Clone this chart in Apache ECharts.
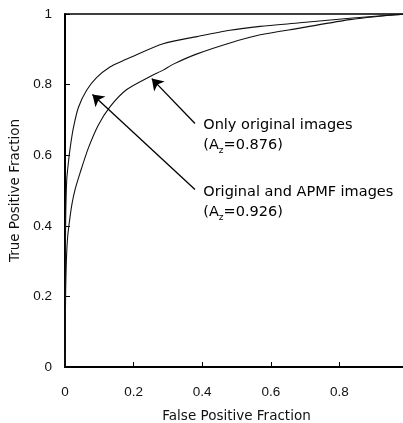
<!DOCTYPE html>
<html>
<head>
<meta charset="utf-8">
<script src="https://cdn.jsdelivr.net/npm/echarts@6/dist/echarts.min.js"></script>
<style>
html,body{margin:0;padding:0;background:#fff;overflow:hidden;width:403px;height:423px;}
#chart{width:410px;height:423px;}
</style>
</head>
<body>
<div id="chart"></div>
<script>
// ROC curve: Original and APMF images (A_z = 0.926)
const fprApmf = [0, 0.0005, 0.002, 0.005, 0.01, 0.015, 0.024, 0.039, 0.063, 0.092, 0.131, 0.17, 0.19, 0.286, 0.385, 0.481, 0.569, 0.685, 0.831, 0.977, 1];
const tprApmf = [0, 0.25, 0.42, 0.53, 0.58, 0.62, 0.675, 0.735, 0.784, 0.82, 0.85, 0.868, 0.877, 0.916, 0.936, 0.954, 0.965, 0.975, 0.988, 0.999, 1];
// ROC curve: Only original images (A_z = 0.876)
const fprOrig = [0, 0.001, 0.002, 0.004, 0.007, 0.012, 0.02, 0.03, 0.044, 0.068, 0.097, 0.131, 0.18, 0.248, 0.286, 0.316, 0.385, 0.481, 0.569, 0.685, 0.831, 0.977, 1];
const tprOrig = [0, 0.12, 0.22, 0.3, 0.36, 0.405, 0.46, 0.505, 0.55, 0.62, 0.685, 0.737, 0.786, 0.823, 0.841, 0.858, 0.887, 0.918, 0.941, 0.96, 0.984, 0.999, 1];

const xTickLabels = ['0', '0.2', '0.4', '0.6', '0.8', '1'];
const yTickLabels = ['0', '0.2', '0.4', '0.6', '0.8', '1'];

// annotation arrows: [tail, tip] in data units
const arrowOrig = [[0.379, 0.69], [0.253, 0.817]];
const arrowApmf = [[0.379, 0.503], [0.080, 0.772]];
// annotation text anchors (left edge, vertical centre) in data units
const labelOrigPos = [0.403, 0.656];
const labelApmfPos = [0.403, 0.468];
const labelOrig = ['Only original images', '(A{sub|z}=0.876)'];
const labelApmf = ['Original and APMF images', '(A{sub|z}=0.926)'];

const zip = (xs, ys) => xs.map((x, i) => [x, ys[i]]);
const tickFmt = (labels) => (v) => labels[Math.round(v / 0.2)] ?? '';

const chart = echarts.init(document.getElementById('chart'), null, {renderer: 'canvas'});
const txt = '#000';
chart.setOption({
  animation: false,
  backgroundColor: '#fff',
  grid: {left: 65, right: 2, top: 14, bottom: 56, containLabel: false, outerBoundsMode: 'none',
    show: true, borderColor: '#000', borderWidth: 1.5, backgroundColor: 'transparent'},
  xAxis: {
    type: 'value', min: 0, max: 1, interval: 0.2,
    name: 'False Positive Fraction', nameLocation: 'middle', nameGap: 42,
    nameTextStyle: {fontFamily: 'DejaVu Sans', fontSize: 13.5, color: '#111'},
    axisLine: {show: true, lineStyle: {color: '#000', width: 2}},
    axisTick: {show: true, inside: true, length: 5, lineStyle: {color: '#000', width: 1}},
    axisLabel: {formatter: tickFmt(xTickLabels), showMaxLabel: false, margin: 18, fontFamily: 'Liberation Sans', fontSize: 13.5, color: '#111'},
    splitLine: {show: false}
  },
  yAxis: {
    type: 'value', min: 0, max: 1, interval: 0.2,
    name: 'True Positive Fraction', nameLocation: 'middle', nameGap: 40,
    nameTextStyle: {fontFamily: 'DejaVu Sans', fontSize: 13.5, color: '#111'},
    axisLine: {show: true, lineStyle: {color: '#000', width: 2}},
    axisTick: {show: true, inside: true, length: 5, lineStyle: {color: '#000', width: 1}},
    axisLabel: {formatter: tickFmt(yTickLabels), margin: 13, fontFamily: 'Liberation Sans', fontSize: 13.5, color: '#111'},
    splitLine: {show: false}
  },
  series: [
    {type: 'line', name: 'Original and APMF images', data: zip(fprApmf, tprApmf), showSymbol: false, smooth: 0.25, lineStyle: {color: '#111', width: 1.1}, z: 3},
    {type: 'line', name: 'Only original images', data: zip(fprOrig, tprOrig), showSymbol: false, smooth: 0.25, lineStyle: {color: '#111', width: 1.1}, z: 3},
    {type: 'lines', coordinateSystem: 'cartesian2d', symbol: ['none', 'arrow'], symbolSize: 11,
      lineStyle: {color: '#000', width: 1.3, opacity: 1, curveness: 0},
      data: [{coords: arrowOrig}, {coords: arrowApmf}], z: 4},
    {type: 'scatter', symbolSize: 0, silent: true,
      itemStyle: {opacity: 1},
      label: {show: true, position: 'right', distance: 0, color: txt, opacity: 1, textBorderWidth: 0, fontFamily: 'DejaVu Sans', fontSize: 14.5, lineHeight: 20,
        formatter: (p) => p.data.text.join('\n'),
        rich: {sub: {fontFamily: 'DejaVu Sans', fontSize: 9, color: txt, verticalAlign: 'bottom', lineHeight: 14, padding: [6, 0, 0, 0]}}},
      data: [{value: labelOrigPos, text: labelOrig}, {value: labelApmfPos, text: labelApmf}], z: 5}
  ]
});
</script>
</body>
</html>
